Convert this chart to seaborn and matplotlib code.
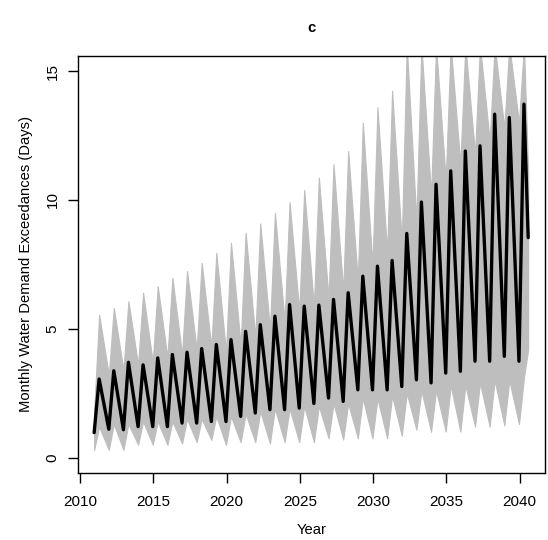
import numpy as np
import pandas as pd
import matplotlib
matplotlib.use("Agg")
import matplotlib.pyplot as plt
import seaborn as sns

# ---------------- data ----------------
years = list(range(2011, 2041))
# median series: value at the start-of-year trough and at the spring peak
median_trough = [0.97, 1.10, 1.08, 1.20, 1.20, 1.20, 1.34, 1.34, 1.40, 1.40,
                 1.60, 1.73, 1.86, 1.86, 1.92, 2.10, 2.31, 2.18, 2.63, 2.63,
                 2.63, 2.76, 3.02, 2.90, 3.28, 3.35, 3.74, 3.74, 3.93, 3.74]
median_peak = [3.05, 3.37, 3.70, 3.60, 3.87, 4.00, 4.09, 4.23, 4.39, 4.58,
               4.90, 5.16, 5.49, 5.94, 5.88, 5.92, 6.14, 6.40, 7.04, 7.43,
               7.65, 8.70, 9.92, 10.61, 11.13, 11.90, 12.10, 13.33, 13.20, 13.72]
median_end = 8.54

# ensemble envelope (grey): max / min at peak and trough months
ens_max_peak = [5.55, 5.81, 6.07, 6.40, 6.65, 6.98, 7.24, 7.56, 7.95, 8.34,
                8.73, 9.09, 9.50, 9.92, 10.39, 10.87, 11.39, 11.90, 13.00, 13.60,
                14.24, 16.0, 16.0, 16.0, 16.0, 16.0, 16.0, 16.0, 16.0, 16.0]
ens_max_trough = [1.8, 3.2, 3.4, 3.6, 3.7, 3.9, 4.0, 4.2, 4.3, 4.1,
                  4.4, 4.7, 5.0, 5.3, 5.7, 5.9, 6.2, 6.5, 6.9, 7.5,
                  8.0, 8.4, 9.2, 10.2, 10.8, 11.4, 11.8, 12.3, 12.8, 13.0]
ens_min_peak = [1.2, 1.3, 1.3, 1.4, 1.4, 1.4, 1.5, 1.5, 1.6, 1.6,
                1.7, 1.8, 1.9, 1.9, 2.0, 2.0, 2.1, 2.1, 2.3, 2.3,
                2.4, 2.5, 2.6, 2.6, 2.8, 2.8, 2.9, 3.0, 3.0, 3.1]
ens_min_trough = [0.30, 0.30, 0.30, 0.50, 0.50, 0.50, 0.55, 0.60, 0.69, 0.49,
                  0.60, 0.60, 0.55, 0.60, 0.60, 0.60, 0.75, 0.70, 0.75, 0.75,
                  0.75, 0.85, 1.08, 1.00, 1.01, 1.01, 1.20, 1.20, 1.25, 1.30]
ens_end_max = 11.0
ens_end_min = 4.2

trough_time = [y - 0.05 for y in years]
peak_time = [y + 0.29 for y in years]
end_time = 2040.58

x_ticks = [2010, 2015, 2020, 2025, 2030, 2035, 2040]
y_ticks = [0, 5, 10, 15]

# ---------------- build series ----------------
t, med, hi, lo = [], [], [], []
for i in range(len(years)):
    t += [trough_time[i], peak_time[i]]
    med += [median_trough[i], median_peak[i]]
    hi += [ens_max_trough[i], ens_max_peak[i]]
    lo += [ens_min_trough[i], ens_min_peak[i]]
t.append(end_time); med.append(median_end); hi.append(ens_end_max); lo.append(ens_end_min)
df = pd.DataFrame({"time": t, "median": med, "hi": hi, "lo": lo})

# ---------------- plot ----------------
sns.set_theme(style="white")
plt.rcParams["font.family"] = ["Liberation Sans", "DejaVu Sans"]

fig = plt.figure(figsize=(5.48, 5.40), dpi=100)
ax = fig.add_axes([0.1416, 0.124, 0.8530, 0.7728])

ax.fill_between(df["time"], df["lo"], df["hi"], color="#bebebe", lw=0.8,
                edgecolor="#bebebe", zorder=1)
sns.lineplot(data=df, x="time", y="median", color="black", lw=2.4,
             estimator=None, sort=False, ax=ax, zorder=3)

ax.set_xlim(2009.82, 2041.73)
ax.set_ylim(-0.6, 15.6)
ax.set_xticks(x_ticks)
ax.set_xticklabels([str(v) for v in x_ticks])
ax.set_yticks(y_ticks)
ax.set_yticklabels([str(v) for v in y_ticks], rotation=90, va="center")

for s in ax.spines.values():
    s.set_visible(True)
    s.set_color("black")
    s.set_linewidth(1.0)

ax.tick_params(axis="both", direction="out", length=7, width=1.0,
               color="black", labelsize=11, labelcolor="black",
               bottom=True, left=True)
ax.tick_params(axis="x", pad=9)
ax.tick_params(axis="y", pad=6)

ax.set_xlabel("Year", fontsize=10.6, labelpad=10, color="black")
ax.set_ylabel("Monthly Water Demand Exceedances (Days)", fontsize=10.6,
              labelpad=9, color="black")
ax.set_title("c", fontsize=10.6, fontweight="bold", pad=17, color="black")
ax.grid(False)

fig.savefig("out.png", dpi=100, facecolor="white")
